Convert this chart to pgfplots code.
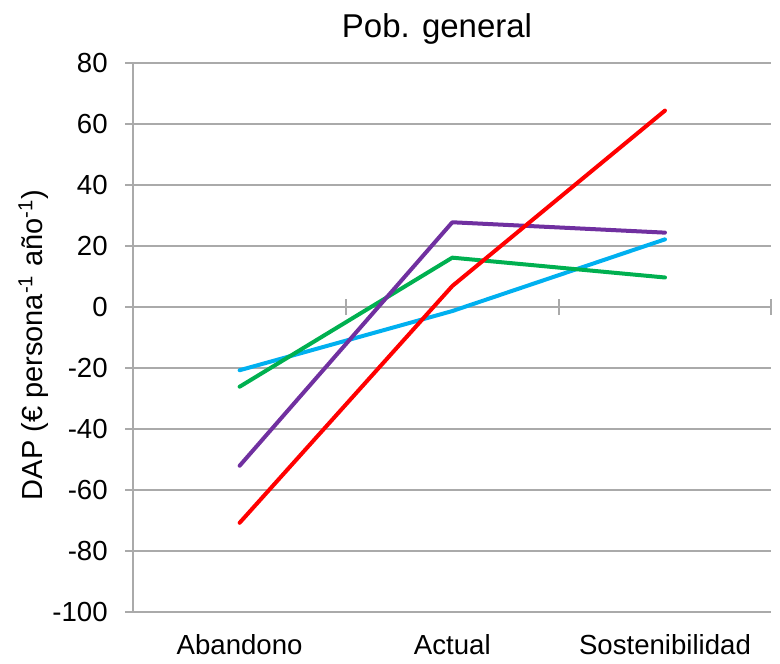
\documentclass[border=0pt]{standalone}
\usepackage{pgfplots}
\pgfplotsset{compat=1.18}
\usepackage{fontspec}
\setmainfont{Liberation Sans}

\definecolor{serRed}{RGB}{255,0,0}
\definecolor{serPurple}{RGB}{112,48,160}
\definecolor{serGreen}{RGB}{0,176,80}
\definecolor{serBlue}{RGB}{0,176,240}
\definecolor{gridGray}{RGB}{170,170,170}

\begin{document}
\begin{tikzpicture}
\useasboundingbox (0,0) rectangle (390pt,331.5pt);
\begin{axis}[
    at={(66.65pt,25.4pt)}, anchor=south west,
    scale only axis,
    width=319pt, height=274.6pt,
    xmin=-0.5, xmax=2.5,
    ymin=-100, ymax=80,
    ytick={-100,-80,...,80},
    xtick={0,1,2},
    xticklabels={Abandono,Actual,Sostenibilidad},
    axis x line*=bottom,
    axis y line*=left,
    axis line style={gridGray, line width=1pt},
    ymajorgrids=true,
    grid style={gridGray, line width=1pt},
    tick align=outside,
    ytick style={gridGray, line width=1pt},
    major tick length=4pt,
    xtick style={draw=none},
    /pgf/number format/assume math mode=true,
    ticklabel style={font=\fontsize{13.8}{16}\selectfont},
    yticklabel style={inner sep=0pt, xshift=-8.6pt},
    xticklabel style={anchor=base, inner sep=0pt, yshift=-17pt},
    clip=false,
]
% zero line tick marks at category boundaries
\pgfplotsinvokeforeach{0.5,1.5,2.5}{
    \draw[gridGray, line width=1pt] ([yshift=-4pt]axis cs:#1,0) -- ([yshift=4pt]axis cs:#1,0);
}
\addplot[serBlue, line width=2pt, line cap=round, line join=round] coordinates {
    (0,-20.7) (1,-1.3) (2,22.2)
};
\addplot[serGreen, line width=2pt, line cap=round, line join=round] coordinates {
    (0,-26.1) (1,16.2) (2,9.7)
};
\addplot[serPurple, line width=2pt, line cap=round, line join=round] coordinates {
    (0,-52.0) (1,27.8) (2,24.4)
};
\addplot[serRed, line width=2pt, line cap=round, line join=round] coordinates {
    (0,-70.7) (1,6.9) (2,64.4)
};
\end{axis}
\node[anchor=base, font=\fontsize{16.5}{19}\selectfont] at (218.5pt,312.5pt) {Pob. general};
\node[anchor=base, rotate=90, font=\fontsize{14.5}{17}\selectfont] at (21.4pt,159pt)
    {DAP (€ persona\textsuperscript{-1} año\textsuperscript{-1})};
\end{tikzpicture}
\end{document}
